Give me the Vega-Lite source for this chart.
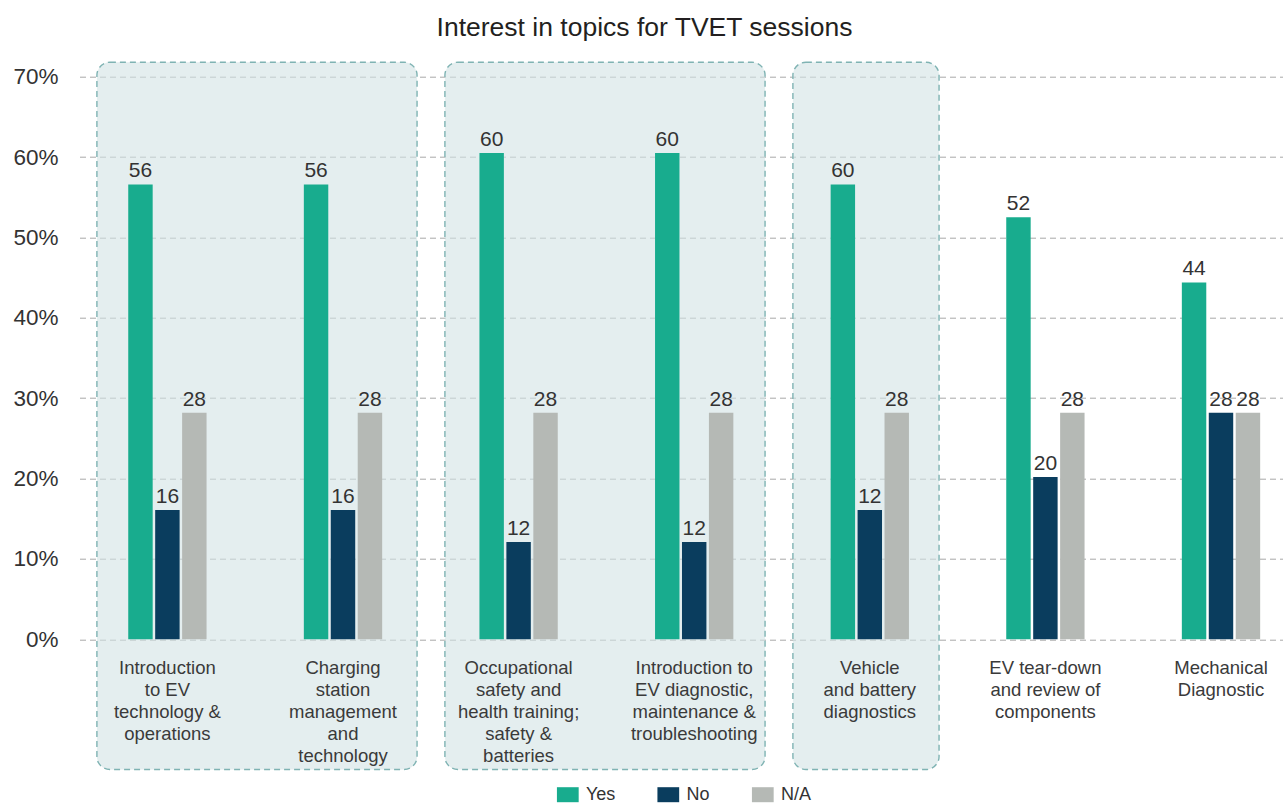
{
  "$schema": "https://vega.github.io/schema/vega-lite/v6.json",
  "autosize": {"type": "none"},
  "padding": {"left": 86, "top": 76.7, "right": 0, "bottom": 164.7},
  "width": 1197,
  "height": 562.6,
  "title": {
    "text": "Interest in topics for TVET sessions",
    "fontSize": 26.5,
    "fontWeight": "normal",
    "color": "#231f20",
    "anchor": "middle",
    "dx": -40,
    "offset": 20
  },
  "config": {
    "font": "Liberation Sans",
    "view": {"stroke": null}
  },
  "datasets": {
    "bars": [
      {"topic": "Introduction\nto EV\ntechnology &\noperations", "response": "Yes", "value": 56.6, "label": "56"},
      {"topic": "Introduction\nto EV\ntechnology &\noperations", "response": "No", "value": 16.1, "label": "16"},
      {"topic": "Introduction\nto EV\ntechnology &\noperations", "response": "N/A", "value": 28.2, "label": "28"},
      {"topic": "Charging\nstation\nmanagement\nand\ntechnology", "response": "Yes", "value": 56.6, "label": "56"},
      {"topic": "Charging\nstation\nmanagement\nand\ntechnology", "response": "No", "value": 16.1, "label": "16"},
      {"topic": "Charging\nstation\nmanagement\nand\ntechnology", "response": "N/A", "value": 28.2, "label": "28"},
      {"topic": "Occupational\nsafety and\nhealth training;\nsafety &\nbatteries", "response": "Yes", "value": 60.5, "label": "60"},
      {"topic": "Occupational\nsafety and\nhealth training;\nsafety &\nbatteries", "response": "No", "value": 12.1, "label": "12"},
      {"topic": "Occupational\nsafety and\nhealth training;\nsafety &\nbatteries", "response": "N/A", "value": 28.2, "label": "28"},
      {"topic": "Introduction to\nEV diagnostic,\nmaintenance &\ntroubleshooting", "response": "Yes", "value": 60.5, "label": "60"},
      {"topic": "Introduction to\nEV diagnostic,\nmaintenance &\ntroubleshooting", "response": "No", "value": 12.1, "label": "12"},
      {"topic": "Introduction to\nEV diagnostic,\nmaintenance &\ntroubleshooting", "response": "N/A", "value": 28.2, "label": "28"},
      {"topic": "Vehicle\nand battery\ndiagnostics", "response": "Yes", "value": 56.6, "label": "60"},
      {"topic": "Vehicle\nand battery\ndiagnostics", "response": "No", "value": 16.1, "label": "12"},
      {"topic": "Vehicle\nand battery\ndiagnostics", "response": "N/A", "value": 28.2, "label": "28"},
      {"topic": "EV tear-down\nand review of\ncomponents", "response": "Yes", "value": 52.5, "label": "52"},
      {"topic": "EV tear-down\nand review of\ncomponents", "response": "No", "value": 20.2, "label": "20"},
      {"topic": "EV tear-down\nand review of\ncomponents", "response": "N/A", "value": 28.2, "label": "28"},
      {"topic": "Mechanical\nDiagnostic", "response": "Yes", "value": 44.4, "label": "44"},
      {"topic": "Mechanical\nDiagnostic", "response": "No", "value": 28.2, "label": "28"},
      {"topic": "Mechanical\nDiagnostic", "response": "N/A", "value": 28.2, "label": "28"}
    ],
    "groups": [
      {"group": "A", "start": "Introduction\nto EV\ntechnology &\noperations", "end": "Charging\nstation\nmanagement\nand\ntechnology"},
      {"group": "B", "start": "Occupational\nsafety and\nhealth training;\nsafety &\nbatteries", "end": "Introduction to\nEV diagnostic,\nmaintenance &\ntroubleshooting"},
      {"group": "C", "start": "Vehicle\nand battery\ndiagnostics", "end": "Vehicle\nand battery\ndiagnostics"}
    ]
  },
  "resolve": {"scale": {"x": "independent"}, "axis": {"x": "independent"}},
  "layer": [
    {
      "data": {"name": "groups"},
      "mark": {"type": "rect", "fill": "#d2e3e4", "fillOpacity": 0.6, "stroke": "#7fb3b3", "strokeWidth": 1.4, "strokeDash": [6, 4], "cornerRadius": 13},
      "encoding": {
        "x": {
          "field": "start",
          "type": "nominal",
          "bandPosition": 0.1,
          "scale": {
            "domain": [
              "Introduction\nto EV\ntechnology &\noperations",
              "Charging\nstation\nmanagement\nand\ntechnology",
              "Occupational\nsafety and\nhealth training;\nsafety &\nbatteries",
              "Introduction to\nEV diagnostic,\nmaintenance &\ntroubleshooting",
              "Vehicle\nand battery\ndiagnostics",
              "EV tear-down\nand review of\ncomponents",
              "Mechanical\nDiagnostic"
            ],
            "range": [-6.5, 1211.5],
            "paddingInner": 0,
            "paddingOuter": 0
          },
          "axis": null
        },
        "x2": {"field": "end", "bandPosition": 0.94},
        "y": {"datum": 71.8, "type": "quantitative", "scale": {"domain": [0, 70], "nice": false}},
        "y2": {"datum": -16.2}
      }
    },
    {
      "layer": [
        {
          "data": {"name": "bars"},
          "mark": {"type": "bar"},
          "encoding": {
            "x": {
              "field": "topic",
              "type": "nominal",
              "sort": null,
              "scale": {
                "domain": [
                  "Introduction\nto EV\ntechnology &\noperations",
                  "Charging\nstation\nmanagement\nand\ntechnology",
                  "Occupational\nsafety and\nhealth training;\nsafety &\nbatteries",
                  "Introduction to\nEV diagnostic,\nmaintenance &\ntroubleshooting",
                  "Vehicle\nand battery\ndiagnostics",
                  "EV tear-down\nand review of\ncomponents",
                  "Mechanical\nDiagnostic"
                ],
                "range": [-6.4, 1222.8],
                "paddingInner": 0.554,
                "paddingOuter": 0.277
              },
              "axis": {
                "title": null,
                "labelAngle": 0,
                "labelAlign": "center",
                "labelExpr": "split(datum.label, '\\n')",
                "labelFontSize": 18.5,
                "labelLineHeight": 22,
                "labelColor": "#3a3a3a",
                "labelBaseline": "top",
                "labelPadding": 19,
                "labelLimit": 0,
                "labelOverlap": false,
                "domain": false,
                "ticks": false,
                "tickSize": 0,
                "zindex": 2
              }
            },
            "xOffset": {
              "field": "response",
              "type": "nominal",
              "sort": ["Yes", "No", "N/A"],
              "scale": {"paddingInner": 0.093, "paddingOuter": 0}
            },
            "y": {
              "field": "value",
              "type": "quantitative",
              "scale": {"domain": [0, 70], "nice": false},
              "axis": {
                "title": null,
                "values": [0, 10, 20, 30, 40, 50, 60, 70],
                "labelExpr": "datum.value + '%'",
                "labelFontSize": 22.5,
                "labelColor": "#333333",
                "labelPadding": 28,
                "ticks": false,
                "tickSize": 0,
                "domain": false,
                "grid": true,
                "gridColor": "#a9a9a9",
                "gridDash": [6, 4],
                "gridWidth": 1
              }
            },
            "color": {
              "field": "response",
              "type": "nominal",
              "sort": ["Yes", "No", "N/A"],
              "scale": {"domain": ["Yes", "No", "N/A"], "range": ["#18ac8e", "#0a3d5e", "#b5b9b5"]},
              "legend": {
                "title": null,
                "orient": "none",
                "direction": "horizontal",
                "legendX": 472.8,
                "legendY": 709,
                "padding": 0,
                "symbolType": "M-1.45,-1H1.45V1H-1.45Z",
                "symbolSize": 225,
                "symbolStrokeWidth": 0,
                "symbolOpacity": 1,
                "labelFontSize": 18,
                "labelColor": "#333333",
                "labelOffset": 9.2,
                "columnPadding": 41.5
              }
            }
          }
        },
        {
          "data": {"name": "bars"},
          "mark": {"type": "text", "baseline": "alphabetic", "dy": -7, "fontSize": 21, "color": "#333333"},
          "encoding": {
            "x": {"field": "topic", "type": "nominal", "sort": null},
            "xOffset": {"field": "response", "type": "nominal", "sort": ["Yes", "No", "N/A"]},
            "y": {"field": "value", "type": "quantitative"},
            "text": {"field": "label"}
          }
        }
      ]
    }
  ]
}
